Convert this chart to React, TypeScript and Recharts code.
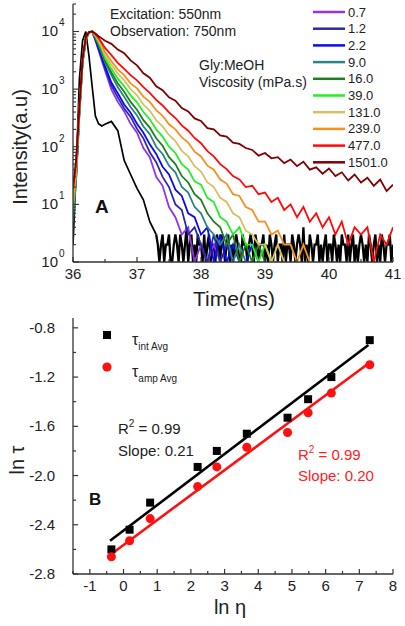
import React from "react";
import { LineChart, Line, XAxis, YAxis, Legend, ScatterChart, Scatter } from "recharts";

const FONT = '"Liberation Sans", Arial, Helvetica, sans-serif';
const AXIS = "#333";

// ---- panel A: fluorescence decays (counts vs time, ns) ----
const time = [
  36.0, 36.05, 36.1, 36.15, 36.2, 36.25, 36.3, 36.35, 36.4, 36.45, 36.5,
  36.6, 36.7, 36.8, 36.9, 37.0, 37.1, 37.2, 37.3, 37.4, 37.5, 37.6, 37.7, 37.8, 37.9,
  38.0, 38.1, 38.2, 38.3, 38.4, 38.5, 38.6, 38.7, 38.8, 38.9, 39.0, 39.1, 39.2, 39.3, 39.4,
  39.5, 39.6, 39.7, 39.8, 39.9, 40.0, 40.1, 40.2, 40.3, 40.4, 40.5, 40.6, 40.7, 40.8, 40.9, 41.0,
];

// instrument response (black), main part
const irf = [
  2, 40, 1500, 7000, 10000, 3700, 1100, 340, 250, 230, 245,
  275, 190, 58, 33, 19, 12, 5, 3,
];
// instrument response noise floor, sampled every 25 ps from 37.3 ns
const floorStart = 37.3;
const floorStep = 0.025;
const irfFloor = [
  3, 2, 1, 2, 3, 1, 2, 2, 3, 1, 1, 2, 3, 2, 1, 3, 2, 1, 2, 4,
  1, 2, 3, 1, 2, 1, 3, 2, 2, 1, 3, 1, 2, 3, 1, 2, 2, 1, 3, 2,
  1, 3, 2, 1, 2, 3, 1, 2, 1, 2, 3, 2, 1, 1, 3, 2, 2, 1, 2, 3,
  2, 1, 3, 2, 1, 2, 2, 3, 1, 2, 1, 3, 2, 1, 2, 3, 1, 2, 2, 1,
  3, 1, 2, 2, 1, 3, 2, 1, 2, 3, 2, 1, 4, 1, 2, 1, 3, 2, 1, 2,
  2, 3, 1, 2, 1, 2, 3, 1, 2, 2, 1, 3, 2, 1, 2, 1, 3, 2, 2, 1,
  3, 1, 2, 3, 1, 2, 1, 2, 3, 2, 1, 2, 1, 3, 2, 1, 2, 3, 1, 2,
  1, 3, 2, 1, 2, 2, 3, 1, 2,
];

// decays, listed until each trace sinks into the noise floor
const d07 = [
  8, 30, 380, 2900, 7200, 9600, 9900, 7000, 4700, 3100, 2100,
  980, 600, 410, 250, 175, 95, 66, 30, 21, 9, 6, 3, 4, 1, 2, 1, 2, 1,
];
const d12 = [
  6, 32, 400, 3000, 7300, 9700, 10000, 7200, 5000, 3400, 2300,
  1150, 720, 460, 330, 205, 140, 80, 54, 30, 20, 10, 8, 3, 4, 2, 1, 3, 1, 2, 1,
];
const d22 = [
  10, 35, 420, 3100, 7400, 9700, 10000, 7400, 5200, 3600, 2500,
  1300, 850, 540, 390, 250, 175, 110, 75, 45, 33, 18, 14, 7, 6, 3, 4, 1, 3, 1, 2, 1, 1, 2, 1,
];
const d90 = [
  5, 28, 360, 2800, 7000, 9500, 9900, 7800, 5800, 4200, 2900,
  1750, 1080, 740, 490, 350, 225, 165, 100, 75, 47, 36, 20, 16, 9, 7, 4, 3, 2, 3, 1, 2, 1, 1,
];
const d160 = [
  12, 45, 450, 3200, 7600, 9800, 10000, 8000, 6100, 4500, 3100,
  1950, 1260, 900, 600, 440, 290, 215, 140, 104, 66, 50, 31, 24, 15, 12, 7, 5, 4, 2, 3, 1, 2, 1, 2, 1,
];
const d390 = [
  8, 38, 420, 3100, 7500, 9700, 10000, 8300, 6500, 4900, 3500,
  2250, 1520, 1120, 780, 590, 400, 300, 200, 150, 100, 78, 50, 40, 25, 22, 13, 11, 6, 5, 3, 4, 2, 2, 1, 2, 1, 1,
];
const d1310 = [
  15, 50, 480, 3300, 7600, 9800, 10000, 8600, 6900, 5400, 3900,
  2650, 1850, 1430, 1000, 780, 540, 420, 290, 225, 160, 125, 85, 68, 46, 37, 24, 20, 13, 11, 7, 6, 3.5, 3, 2, 2, 1, 2, 1,
];
const d2390 = [
  10, 40, 440, 3200, 7500, 9700, 10000, 8800, 7300, 5900, 4400,
  3050, 2200, 1750, 1260, 1030, 740, 600, 430, 345, 245, 200, 145, 118, 82, 68, 47, 40, 27, 23, 15, 14, 9, 8, 5, 5,
  3, 3.5, 2, 2, 1, 2, 1,
];
const d4770 = [
  18, 55, 500, 3400, 7800, 9800, 10000, 9000, 7700, 6400, 5200,
  3900, 2850, 2250, 1750, 1420, 1080, 860, 650, 520, 395, 315, 235, 190, 142, 115, 84, 68, 50, 41, 31, 27, 20, 21,
  15, 16, 11, 13, 8, 10, 6, 9, 5, 7, 4, 6, 3, 5, 2, 4, 3, 4, 1, 3, 2, 4,
];
const d15010 = [
  20, 60, 520, 3500, 7900, 9800, 10000, 9200, 8300, 7600, 6900,
  6100, 4850, 4200, 3150, 2580, 1880, 1580, 1120, 960, 720, 630, 470, 410, 310, 280, 210, 200, 158, 150, 118, 112,
  95, 88, 70, 78, 63, 66, 52, 60, 46, 55, 40, 44, 34, 42, 31, 36, 26, 33, 24, 29, 21, 27, 17, 22,
];

const viscosity = ["0.7", "1.2", "2.2", "9.0", "16.0", "39.0", "131.0", "239.0", "477.0", "1501.0"];
const decayColors = ["#9432e6", "#2a2aa8", "#0a0af5", "#2b8585", "#1f7f1f", "#22f022", "#d8c062", "#f7901e", "#ff0a0a", "#800000"];
const decays = [d07, d12, d22, d90, d160, d390, d1310, d2390, d4770, d15010];

const timeTicks = [36, 36.5, 37, 37.5, 38, 38.5, 39, 39.5, 40, 40.5, 41];
const timeMajor = [36, 37, 38, 39, 40, 41];
const decadeTicks = [1, 10, 100, 1000, 10000];
const countTicks = [...decadeTicks.flatMap((m) => [1, 2, 3, 4, 5, 6, 7, 8, 9].map((k) => k * m)).filter((v) => v <= 10000), 20000, 30000];

const decayRows = time.map((t, i) => {
  const row: any = { t, irf: irf[i] ?? null };
  decays.forEach((d, k) => {
    row["s" + k] = d[i] ?? null;
  });
  return row;
});
const floorRows = irfFloor.map((c, i) => ({ t: +(floorStart + i * floorStep).toFixed(3), f: c }));

// ---- panel B: ln tau vs ln eta ----
const lnEta = [-0.36, 0.18, 0.79, 2.2, 2.77, 3.66, 4.87, 5.48, 6.17, 7.31];
const lnTauInt = [-2.6, -2.44, -2.22, -1.93, -1.8, -1.66, -1.53, -1.38, -1.2, -0.9];
const lnTauAmp = [-2.66, -2.53, -2.35, -2.09, -1.93, -1.77, -1.65, -1.49, -1.33, -1.1];
const fitEta = [-0.4, 7.27];
const fitInt = [-2.53, -0.94];
const fitAmp = [-2.645, -1.09];

const etaTicks = [-1.5, -1, -0.5, 0, 0.5, 1, 1.5, 2, 2.5, 3, 3.5, 4, 4.5, 5, 5.5, 6, 6.5, 7, 7.5, 8];
const etaMajor = [-1, 0, 1, 2, 3, 4, 5, 6, 7, 8];
const tauTicks = [-2.8, -2.6, -2.4, -2.2, -2.0, -1.8, -1.6, -1.4, -1.2, -1.0, -0.8];
const tauMajor = [-2.8, -2.4, -2.0, -1.6, -1.2, -0.8];

const intPts = lnEta.map((x, i) => ({ x, y: lnTauInt[i] }));
const ampPts = lnEta.map((x, i) => ({ x, y: lnTauAmp[i] }));
const fitIntPts = fitEta.map((x, i) => ({ x, y: fitInt[i] }));
const fitAmpPts = fitEta.map((x, i) => ({ x, y: fitAmp[i] }));

const isMajor = (list: number[], v: number) => list.some((m) => Math.abs(m - v) < 1e-6);

const BottomTick = (props: any) => {
  const { x, y, payload, majors, fmt } = props;
  const major = isMajor(majors, payload.value);
  return (
    <g>
      <line x1={x} x2={x} y1={y} y2={y - (major ? 5 : 3)} stroke={AXIS} strokeWidth={1.2} />
      {major && (
        <text x={x} y={y + 17} textAnchor="middle" fontSize={15} fontFamily={FONT} fill="#222">
          {fmt(payload.value)}
        </text>
      )}
    </g>
  );
};

const LeftTick = (props: any) => {
  const { x, y, payload, majors, fmt } = props;
  const major = isMajor(majors, payload.value);
  return (
    <g>
      <line x1={x} x2={x + (major ? 5 : 3)} y1={y} y2={y} stroke={AXIS} strokeWidth={1.2} />
      {major && (
        <text x={x - 18} y={y + 5} textAnchor="end" fontSize={15} fontFamily={FONT} fill="#222">
          {fmt(payload.value)}
        </text>
      )}
    </g>
  );
};

const LogTick = (props: any) => {
  const { x, y, payload } = props;
  const e = Math.log10(payload.value);
  const major = Math.abs(e - Math.round(e)) < 1e-9;
  return (
    <g>
      <line x1={x} x2={x + (major ? 6 : 3)} y1={y} y2={y} stroke={AXIS} strokeWidth={1.1} />
      {major && (
        <text x={x - 15} y={y + 5} textAnchor="end" fontSize={15} fontFamily={FONT} fill="#222">
          10
        </text>
      )}
      {major && (
        <text x={x - 14} y={y - 5} fontSize={10} fontFamily={FONT} fill="#222">
          {Math.round(e)}
        </text>
      )}
    </g>
  );
};

const DecayLegend = (props: any) => {
  const items = (props.payload || [])
    .filter((p: any) => viscosity.includes(p.value))
    .sort((a: any, b: any) => viscosity.indexOf(a.value) - viscosity.indexOf(b.value));
  return (
    <svg width={84} height={172} style={{ display: "block" }}>
      {items.map((p: any, i: number) => (
        <g key={p.value}>
          <line x1={0} x2={32} y1={8 + i * 16.7} y2={8 + i * 16.7} stroke={p.color} strokeWidth={2.5} />
          <text x={35} y={12.5 + i * 16.7} fontSize={13} fontFamily={FONT} fill="#222">
            {p.value}
          </text>
        </g>
      ))}
    </svg>
  );
};

const TauLegend = (props: any) => {
  const items = (props.payload || []).filter((p: any) => p.value === "int Avg" || p.value === "amp Avg");
  return (
    <svg width={110} height={64} style={{ display: "block" }}>
      {items.map((p: any) => {
        const cy = 11 + (p.value === "amp Avg" ? 32 : 0);
        return (
          <g key={p.value}>
            {p.value === "int Avg" ? (
              <rect x={8} y={cy - 4} width={8} height={8} fill={p.color} />
            ) : (
              <circle cx={12} cy={cy} r={4.6} fill={p.color} />
            )}
            <text x={37} y={cy + 10} fontSize={16} fontFamily={FONT} fill="#222">
              τ
              <tspan dy={5} fontSize={10}>
                {p.value}
              </tspan>
            </text>
          </g>
        );
      })}
    </svg>
  );
};

const noShape = () => <g />;

export default function App() {
  return (
    <div style={{ position: "absolute", left: 0, top: 0, width: 405, height: 626, fontFamily: FONT, background: "#fff" }}>
      <div style={{ position: "absolute", left: 0, top: 0 }}>
        <LineChart width={405} height={315} data={decayRows} margin={{ top: 4, right: 12, bottom: 0, left: 0 }}>
          <XAxis
            dataKey="t"
            type="number"
            domain={[36, 41]}
            ticks={timeTicks}
            interval={0}
            height={53}
            tickSize={0}
            tickMargin={0}
            tickLine={false}
            allowDataOverflow
            axisLine={{ stroke: AXIS, strokeWidth: 1.3 }}
            tick={(p: any) => <BottomTick {...p} majors={timeMajor} fmt={(v: number) => String(v)} />}
          />
          <XAxis xAxisId="top" orientation="top" type="number" domain={[36, 41]} height={0} tick={false} tickLine={false} axisLine={{ stroke: AXIS, strokeWidth: 1.3 }} />
          <YAxis
            type="number"
            scale="log"
            domain={[1, 30000]}
            ticks={countTicks}
            interval={0}
            width={73}
            tickSize={0}
            tickMargin={0}
            tickLine={false}
            allowDataOverflow
            axisLine={{ stroke: AXIS, strokeWidth: 1.3 }}
            tick={(p: any) => <LogTick {...p} />}
          />
          <YAxis yAxisId="right" orientation="right" type="number" domain={[0, 1]} width={0} tick={false} tickLine={false} axisLine={{ stroke: AXIS, strokeWidth: 1.3 }} />
          <Line data={floorRows} dataKey="f" stroke="#000" strokeWidth={2.3} dot={false} legendType="none" isAnimationActive={false} />
          <Line dataKey="irf" stroke="#000" strokeWidth={1.7} dot={false} legendType="none" isAnimationActive={false} />
          {decays.map((_, k) => (
            <Line
              key={k}
              dataKey={"s" + k}
              name={viscosity[k]}
              stroke={decayColors[k]}
              strokeWidth={1.8}
              dot={false}
              isAnimationActive={false}
            />
          ))}
          <Legend
            layout="vertical"
            align="center"
            verticalAlign="middle"
            content={(p: any) => <DecayLegend {...p} />}
            wrapperStyle={{ position: "absolute", left: 313, top: 4, width: 84, height: 172 }}
          />
        </LineChart>
      </div>

      <div style={{ position: "absolute", left: 0, top: 310 }}>
        <ScatterChart width={405} height={316} margin={{ top: 8, right: 12, bottom: 0, left: 0 }}>
          <XAxis
            dataKey="x"
            type="number"
            domain={[-1.5, 8]}
            ticks={etaTicks}
            interval={0}
            height={52}
            tickSize={0}
            tickMargin={0}
            tickLine={false}
            allowDataOverflow
            axisLine={{ stroke: AXIS, strokeWidth: 1.3 }}
            tick={(p: any) => <BottomTick {...p} majors={etaMajor} fmt={(v: number) => String(v)} />}
          />
          <XAxis xAxisId="top" orientation="top" type="number" domain={[-1.5, 8]} height={0} tick={false} tickLine={false} axisLine={{ stroke: AXIS, strokeWidth: 1.3 }} />
          <YAxis
            dataKey="y"
            type="number"
            domain={[-2.8, -0.72]}
            ticks={tauTicks}
            interval={0}
            width={73}
            tickSize={0}
            tickMargin={0}
            tickLine={false}
            allowDataOverflow
            axisLine={{ stroke: AXIS, strokeWidth: 1.3 }}
            tick={(p: any) => <LeftTick {...p} majors={tauMajor} fmt={(v: number) => v.toFixed(1)} />}
          />
          <YAxis yAxisId="right" orientation="right" type="number" domain={[0, 1]} width={0} tick={false} tickLine={false} axisLine={{ stroke: AXIS, strokeWidth: 1.3 }} />
          <Scatter name="fit int" data={fitIntPts} fill="#000" line={{ stroke: "#000", strokeWidth: 2.6 }} shape={noShape} legendType="none" isAnimationActive={false} />
          <Scatter name="fit amp" data={fitAmpPts} fill="#f00" line={{ stroke: "#ff1010", strokeWidth: 2.6 }} shape={noShape} legendType="none" isAnimationActive={false} />
          <Scatter name="int Avg" data={intPts} fill="#000" shape="square" isAnimationActive={false} />
          <Scatter name="amp Avg" data={ampPts} fill="#ff1010" shape="circle" isAnimationActive={false} />
          <Legend
            layout="vertical"
            align="center"
            verticalAlign="middle"
            content={(p: any) => <TauLegend {...p} />}
            wrapperStyle={{ position: "absolute", left: 95, top: 14, width: 110, height: 64 }}
          />
        </ScatterChart>
      </div>

      <svg width={405} height={626} style={{ position: "absolute", left: 0, top: 0, pointerEvents: "none" }} fontFamily={FONT}>
        <text x={110} y={19} fontSize={14} fill="#222">Excitation: 550nm</text>
        <text x={110} y={36} fontSize={14} fill="#222">Observation: 750nm</text>
        <text x={199} y={70} fontSize={14} fill="#222">Gly:MeOH</text>
        <text x={199} y={87} fontSize={14} fill="#222">Viscosity (mPa.s)</text>
        <text x={95} y={213} fontSize={19} fontWeight="bold" fill="#111">A</text>
        <text x={20} y={147} fontSize={20} fill="#222" textAnchor="middle" dominantBaseline="central" transform="rotate(-90 20 147)">
          Intensity(a.u)
        </text>
        <text x={234} y={306} fontSize={21} fill="#222" textAnchor="middle">Time(ns)</text>

        <text x={118} y={434} fontSize={15} fill="#222">
          R<tspan dy={-7} fontSize={10}>2</tspan>
          <tspan dy={7}> = 0.99</tspan>
        </text>
        <text x={118} y={456} fontSize={15} fill="#222">Slope: 0.21</text>
        <text x={298} y={460} fontSize={15} fill="#ff2020">
          R<tspan dy={-7} fontSize={10}>2</tspan>
          <tspan dy={7}> = 0.99</tspan>
        </text>
        <text x={298} y={481} fontSize={15} fill="#ff2020">Slope: 0.20</text>
        <text x={89} y={505} fontSize={17} fontWeight="bold" fill="#111">B</text>
        <text x={17} y={460} fontSize={20} fill="#222" textAnchor="middle" dominantBaseline="central" transform="rotate(-90 17 460)">
          ln τ
        </text>
        <text x={230} y={614} fontSize={20} fill="#222" textAnchor="middle">ln η</text>
      </svg>
    </div>
  );
}
